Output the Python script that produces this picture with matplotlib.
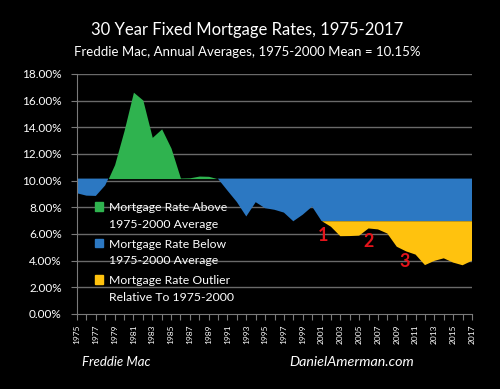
import numpy as np
import matplotlib
matplotlib.use("Agg")
import matplotlib.pyplot as plt
from matplotlib.patches import Patch

# Freddie Mac 30 year fixed, annual averages
years = list(range(1975, 2018))
rates = [9.05, 8.87, 8.85, 9.64, 11.20, 13.74, 16.63, 16.04, 13.24, 13.88,
         12.43, 10.19, 10.21, 10.34, 10.32, 10.13, 9.25, 8.39, 7.31, 8.38,
         7.93, 7.81, 7.60, 6.94, 7.44, 8.05, 6.97, 6.54, 5.83, 5.84,
         5.87, 6.41, 6.34, 6.03, 5.04, 4.69, 4.45, 3.66, 3.98, 4.17,
         3.85, 3.65, 3.99]
mean_rate = 10.15
outlier_level = 6.95
callouts = [("1", 2001.2, 5.9), ("2", 2006.0, 5.4), ("3", 2009.8, 3.9)]
legend_labels = ["Mortgage Rate Above\n1975-2000 Average",
                 "Mortgage Rate Below\n1975-2000 Average",
                 "Mortgage Rate Outlier\nRelative To 1975-2000"]

green = "#2fb34f"
blue = "#2c78c2"
yellow = "#ffc20e"

plt.rcParams['font.family'] = ['Lato', 'DejaVu Sans']

x = np.array(years, dtype=float)
r = np.array(rates)

fig = plt.figure(figsize=(5, 3.89), dpi=100, facecolor='black')
ax = fig.add_axes([0.154, 0.193, 0.79, 0.617], facecolor='black')

for gy in range(2, 20, 2):
    ax.axhline(gy, color='#6a6a6a', lw=1.0, zorder=1)

ax.fill_between(x, r, mean_rate, where=r >= mean_rate, interpolate=True,
                color=green, lw=0, zorder=2)
ax.fill_between(x, mean_rate, np.maximum(r, outlier_level), where=r <= mean_rate,
                interpolate=True, color=blue, lw=0, zorder=2)
ax.fill_between(x, outlier_level, r, where=r <= outlier_level, interpolate=True,
                color=yellow, lw=0, zorder=2)

for txt, cx, cy in callouts:
    ax.text(cx, cy, txt, color='#e3141b', fontsize=13, fontweight='bold',
            ha='center', va='center', zorder=4)

ax.set_xlim(1975, 2017)
ax.set_ylim(0, 18)
ax.set_yticks(range(0, 20, 2))
ax.set_yticklabels([f"{v:.2f}%" for v in range(0, 20, 2)])
ax.set_xticks(years, minor=True)
ax.set_xticks(years[::2])
ax.set_xticklabels([str(y) for y in years[::2]], rotation=90)

for side in ['top', 'right']:
    ax.spines[side].set_visible(False)
for side in ['left', 'bottom']:
    ax.spines[side].set_color('#7a7a7a')
ax.tick_params(axis='y', colors='white', labelsize=8.5, length=4, width=0.8,
               pad=7)
ax.tick_params(axis='y', color='#7a7a7a')
ax.tick_params(axis='x', which='both', colors='#7a7a7a', length=4, width=0.8,
               labelcolor='white', labelsize=6)

handles = [Patch(color=c) for c in (green, blue, yellow)]
leg = ax.legend(handles, legend_labels, loc='upper left',
                bbox_to_anchor=(0.045, 0.465), frameon=False, borderpad=0,
                borderaxespad=0, fontsize=8.8, labelcolor='white',
                handlelength=0.7, handleheight=0.7, handletextpad=0.5,
                labelspacing=0.75)
for t in leg.get_texts():
    t.set_linespacing(1.6)
for h in leg.legend_handles:
    h.set_y(h.get_y() + 7)
leg.set_zorder(5)

fig.text(0.494, 0.922, "30 Year Fixed Mortgage Rates, 1975-2017",
         color='white', fontsize=12, ha='center', va='center')
fig.text(0.494, 0.866, "Freddie Mac, Annual Averages, 1975-2000 Mean = 10.15%",
         color='white', fontsize=9.5, ha='center', va='center')
fig.text(0.232, 0.07, "Freddie Mac", color='white', fontsize=9.5,
         style='italic', ha='center', va='center')
fig.text(0.704, 0.07, "DanielAmerman.com", color='white', fontsize=10.3,
         style='italic', ha='center', va='center')

fig.savefig("out.png", dpi=100, facecolor='black')
